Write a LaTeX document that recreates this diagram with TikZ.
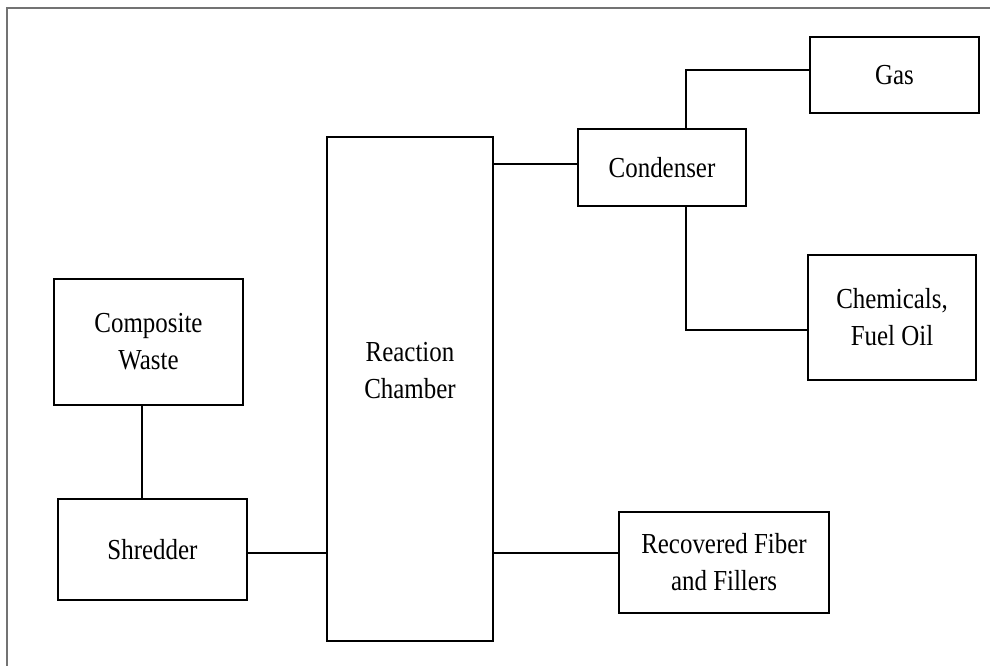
\documentclass[tikz,border=0pt]{standalone}
\usepackage{fontspec}
\newfontfamily\diagfont[FakeStretch=0.86]{Liberation Serif}
\begin{document}
\begin{tikzpicture}[x=1pt,y=-1pt,
  txt/.style={align=center, font=\diagfont\fontsize{29}{37}\selectfont},
  box/.style={draw=black, line width=2.5pt, inner sep=0pt, txt},
  wire/.style={draw=black, line width=2.5pt},
  frameline/.style={draw=black!55, line width=1.6pt}]
\useasboundingbox (0,0) rectangle (990,666);
\draw[frameline] (990,8) -- (7,8) -- (7,666);
\node[box, minimum width=189, minimum height=126] (cw) at (148.5,342) {Composite\\Waste};
\node[box, minimum width=189, minimum height=101] (sh) at (152.5,549.5) {Shredder};
\node[box, minimum width=166, minimum height=504,
  label={[txt, yshift=18pt]center:Reaction\\Chamber}] (rc) at (410,389) {};
\node[box, minimum width=168, minimum height=77] (cd) at (662,167.5) {Condenser};
\node[box, minimum width=169, minimum height=76] (gas) at (894.5,75) {Gas};
\node[box, minimum width=168, minimum height=125] (ch) at (892,317.5) {Chemicals,\\Fuel Oil};
\node[box, minimum width=210, minimum height=101] (rf) at (724,562.5) {Recovered Fiber\\and Fillers};
\draw[wire] (cw.south -| 142,0) -- (sh.north -| 142,0);
\draw[wire] (sh.east |- 0,553) -- (rc.west |- 0,553);
\draw[wire] (rc.east |- 0,164) -- (cd.west |- 0,164);
\draw[wire] (rc.east |- 0,553) -- (rf.west |- 0,553);
\draw[wire] (cd.north -| 686,0) -- (686,70) -- (gas.west |- 0,70);
\draw[wire] (cd.south -| 686,0) -- (686,330) -- (ch.west |- 0,330);
\end{tikzpicture}
\end{document}
